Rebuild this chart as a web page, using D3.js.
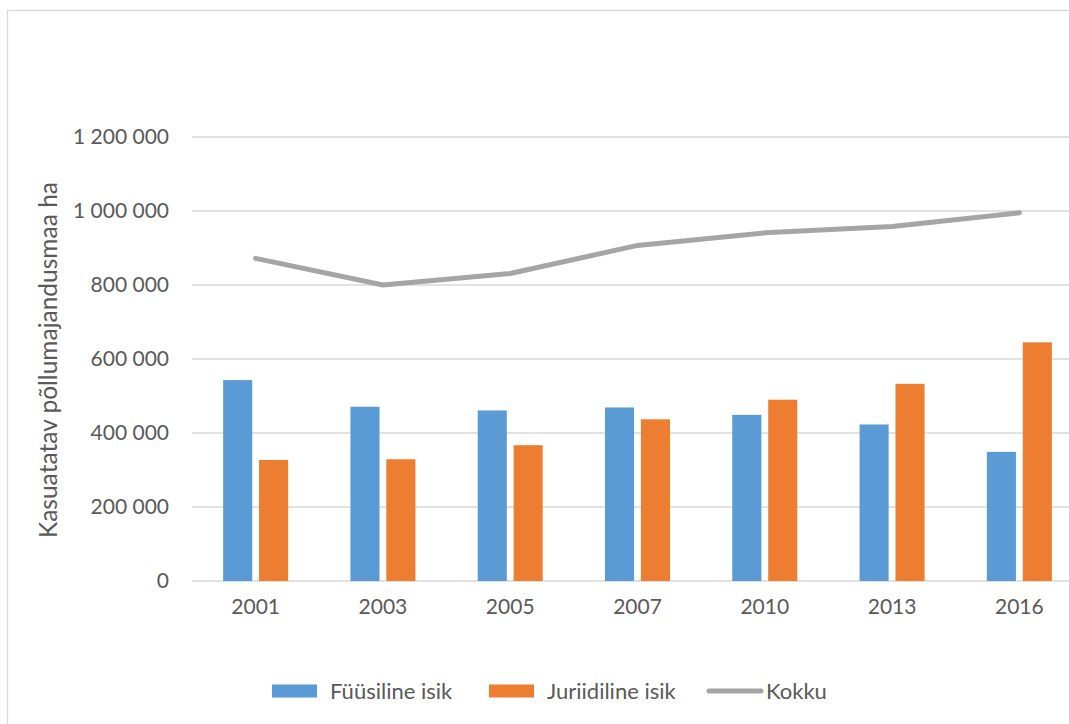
<!DOCTYPE html>
<html>
<head>
<meta charset="utf-8">
<script src="https://cdn.jsdelivr.net/npm/d3@7"></script>
<style>
  body { margin: 0; background: #fff; }
  svg text { font-family: Lato, "Open Sans", sans-serif; fill: #595959; }
</style>
</head>
<body>
<svg></svg>
<script>
const w = 1069;
const h = 724;

// data
const years = ['2001', '2003', '2005', '2007', '2010', '2013', '2016'];
const fyysiline = [543000, 471000, 461000, 469000, 449000, 423000, 349000];
const juriidiline = [327000, 329000, 367000, 437000, 490000, 533000, 645000];
const kokku = [872000, 800000, 831000, 907000, 941000, 958000, 995000];
const yTicks = [0, 200000, 400000, 600000, 800000, 1000000, 1200000];
const seriesNames = ['Füüsiline isik', 'Juriidiline isik', 'Kokku'];
const colors = ['#5B9BD5', '#ED7D31', '#A5A5A5'];

const pLeft = 192, pRight = 1083, pTop = 137, pBottom = 581;

const svg = d3.select('svg')
    .attr('width', w)
    .attr('height', h);

// chart border
svg.append('rect')
    .attr('x', 7.5).attr('y', 10.5)
    .attr('width', 1100).attr('height', 760)
    .attr('fill', 'none')
    .attr('stroke', '#d9d9d9')
    .attr('stroke-width', 1.3);

const x = d3.scaleBand()
    .domain(years)
    .range([pLeft, pRight]);

const y = d3.scaleLinear()
    .domain([0, 1200000])
    .range([pBottom, pTop]);

// bars inside a group
const sub = d3.scaleBand()
    .domain([0, 1])
    .range([-32.5, 32.5])
    .paddingInner(0.19);

// gridlines
svg.append('g')
    .selectAll('line')
    .data(yTicks)
    .enter()
    .append('line')
    .attr('x1', pLeft)
    .attr('x2', pRight)
    .attr('y1', d => y(d))
    .attr('y2', d => y(d))
    .attr('stroke', '#d9d9d9')
    .attr('stroke-width', 1.3);

// y axis labels
const fmt = d => d3.format(',')(d).replace(/,/g, ' ');
const yAxis = d3.axisLeft(y)
    .tickValues(yTicks)
    .tickFormat(fmt)
    .tickSize(0)
    .tickPadding(23);

const gy = svg.append('g')
    .attr('id', 'y-axis')
    .attr('transform', 'translate(' + pLeft + ',0)')
    .call(yAxis);
gy.select('.domain').remove();
gy.selectAll('text')
    .style('font-size', '21px')
    .attr('fill', '#595959');

// x axis labels
const xAxis = d3.axisBottom(x).tickSize(0).tickPadding(18);
const gx = svg.append('g')
    .attr('id', 'x-axis')
    .attr('transform', 'translate(0,' + pBottom + ')')
    .call(xAxis);
gx.select('.domain').remove();
gx.selectAll('text')
    .style('font-size', '21px')
    .attr('fill', '#595959');

// bars
[fyysiline, juriidiline].forEach((vals, s) => {
    svg.append('g')
        .selectAll('rect')
        .data(vals)
        .enter()
        .append('rect')
        .attr('x', (d, i) => x(years[i]) + x.bandwidth() / 2 + sub(s))
        .attr('y', d => y(d))
        .attr('width', sub.bandwidth())
        .attr('height', d => pBottom - y(d))
        .attr('fill', colors[s]);
});

// total line
const line = d3.line()
    .x((d, i) => x(years[i]) + x.bandwidth() / 2)
    .y(d => y(d));

svg.append('path')
    .datum(kokku)
    .attr('d', line)
    .attr('fill', 'none')
    .attr('stroke', colors[2])
    .attr('stroke-width', 5)
    .attr('stroke-linecap', 'round')
    .attr('stroke-linejoin', 'round');

// y title
svg.append('text')
    .attr('transform', 'translate(57,360) rotate(-90)')
    .attr('text-anchor', 'middle')
    .style('font-size', '24.5px')
    .text('Kasuatatav põllumajandusmaa ha');

// legend
const legendX = [272, 489, 707];
const legend = svg.append('g');
seriesNames.forEach((name, i) => {
    const g = legend.append('g')
        .attr('transform', 'translate(' + legendX[i] + ',691)');
    if (i < 2) {
        g.append('rect')
            .attr('x', 0).attr('y', -6.5)
            .attr('width', 45).attr('height', 13)
            .attr('fill', colors[i]);
    } else {
        g.append('line')
            .attr('x1', 2).attr('x2', 54)
            .attr('y1', 0).attr('y2', 0)
            .attr('stroke', colors[i])
            .attr('stroke-width', 5)
            .attr('stroke-linecap', 'round');
    }
    g.append('text')
        .attr('x', i < 2 ? 58 : 59)
        .attr('dy', '0.35em')
        .style('font-size', '22px')
        .text(name);
});
</script>
</body>
</html>
